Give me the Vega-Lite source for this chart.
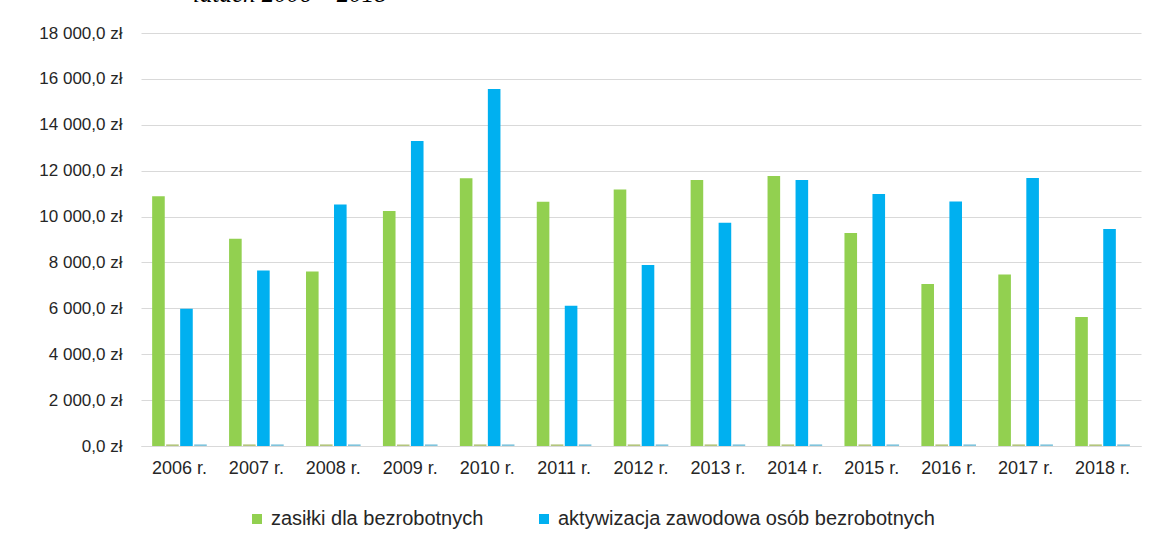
{
  "$schema": "https://vega.github.io/schema/vega-lite/v6.json",
  "width": 1000,
  "height": 413,
  "autosize": "none",
  "padding": {"left": 141, "top": 33, "right": 14, "bottom": 99},
  "background": "white",
  "config": {"view": {"stroke": null}, "font": "Liberation Sans"},
  "title": {
    "text": "latach 2006 – 2018",
    "anchor": "start",
    "frame": "group",
    "dx": 52,
    "dy": 9,
    "offset": 6,
    "baseline": "alphabetic",
    "font": "Liberation Serif",
    "fontStyle": "italic",
    "fontWeight": "normal",
    "fontSize": 25,
    "color": "#000000"
  },
  "data": {
    "values": [
      {"rok": "2006 r.", "seria": "zasiłki dla bezrobotnych", "kwota": 10890},
      {"rok": "2006 r.", "seria": "seria 2", "kwota": 70},
      {"rok": "2006 r.", "seria": "aktywizacja zawodowa osób bezrobotnych", "kwota": 5980},
      {"rok": "2006 r.", "seria": "seria 4", "kwota": 70},
      {"rok": "2007 r.", "seria": "zasiłki dla bezrobotnych", "kwota": 9030},
      {"rok": "2007 r.", "seria": "seria 2", "kwota": 70},
      {"rok": "2007 r.", "seria": "aktywizacja zawodowa osób bezrobotnych", "kwota": 7650},
      {"rok": "2007 r.", "seria": "seria 4", "kwota": 70},
      {"rok": "2008 r.", "seria": "zasiłki dla bezrobotnych", "kwota": 7600},
      {"rok": "2008 r.", "seria": "seria 2", "kwota": 70},
      {"rok": "2008 r.", "seria": "aktywizacja zawodowa osób bezrobotnych", "kwota": 10530},
      {"rok": "2008 r.", "seria": "seria 4", "kwota": 70},
      {"rok": "2009 r.", "seria": "zasiłki dla bezrobotnych", "kwota": 10240},
      {"rok": "2009 r.", "seria": "seria 2", "kwota": 70},
      {"rok": "2009 r.", "seria": "aktywizacja zawodowa osób bezrobotnych", "kwota": 13290},
      {"rok": "2009 r.", "seria": "seria 4", "kwota": 70},
      {"rok": "2010 r.", "seria": "zasiłki dla bezrobotnych", "kwota": 11670},
      {"rok": "2010 r.", "seria": "seria 2", "kwota": 70},
      {"rok": "2010 r.", "seria": "aktywizacja zawodowa osób bezrobotnych", "kwota": 15560},
      {"rok": "2010 r.", "seria": "seria 4", "kwota": 70},
      {"rok": "2011 r.", "seria": "zasiłki dla bezrobotnych", "kwota": 10645},
      {"rok": "2011 r.", "seria": "seria 2", "kwota": 70},
      {"rok": "2011 r.", "seria": "aktywizacja zawodowa osób bezrobotnych", "kwota": 6110},
      {"rok": "2011 r.", "seria": "seria 4", "kwota": 70},
      {"rok": "2012 r.", "seria": "zasiłki dla bezrobotnych", "kwota": 11180},
      {"rok": "2012 r.", "seria": "seria 2", "kwota": 70},
      {"rok": "2012 r.", "seria": "aktywizacja zawodowa osób bezrobotnych", "kwota": 7890},
      {"rok": "2012 r.", "seria": "seria 4", "kwota": 70},
      {"rok": "2013 r.", "seria": "zasiłki dla bezrobotnych", "kwota": 11590},
      {"rok": "2013 r.", "seria": "seria 2", "kwota": 70},
      {"rok": "2013 r.", "seria": "aktywizacja zawodowa osób bezrobotnych", "kwota": 9730},
      {"rok": "2013 r.", "seria": "seria 4", "kwota": 70},
      {"rok": "2014 r.", "seria": "zasiłki dla bezrobotnych", "kwota": 11770},
      {"rok": "2014 r.", "seria": "seria 2", "kwota": 70},
      {"rok": "2014 r.", "seria": "aktywizacja zawodowa osób bezrobotnych", "kwota": 11590},
      {"rok": "2014 r.", "seria": "seria 4", "kwota": 70},
      {"rok": "2015 r.", "seria": "zasiłki dla bezrobotnych", "kwota": 9280},
      {"rok": "2015 r.", "seria": "seria 2", "kwota": 70},
      {"rok": "2015 r.", "seria": "aktywizacja zawodowa osób bezrobotnych", "kwota": 10980},
      {"rok": "2015 r.", "seria": "seria 4", "kwota": 70},
      {"rok": "2016 r.", "seria": "zasiłki dla bezrobotnych", "kwota": 7060},
      {"rok": "2016 r.", "seria": "seria 2", "kwota": 70},
      {"rok": "2016 r.", "seria": "aktywizacja zawodowa osób bezrobotnych", "kwota": 10660},
      {"rok": "2016 r.", "seria": "seria 4", "kwota": 70},
      {"rok": "2017 r.", "seria": "zasiłki dla bezrobotnych", "kwota": 7480},
      {"rok": "2017 r.", "seria": "seria 2", "kwota": 70},
      {"rok": "2017 r.", "seria": "aktywizacja zawodowa osób bezrobotnych", "kwota": 11680},
      {"rok": "2017 r.", "seria": "seria 4", "kwota": 70},
      {"rok": "2018 r.", "seria": "zasiłki dla bezrobotnych", "kwota": 5620},
      {"rok": "2018 r.", "seria": "seria 2", "kwota": 70},
      {"rok": "2018 r.", "seria": "aktywizacja zawodowa osób bezrobotnych", "kwota": 9455},
      {"rok": "2018 r.", "seria": "seria 4", "kwota": 70}
    ]
  },
  "mark": {"type": "bar"},
  "encoding": {
    "x": {
      "field": "rok",
      "type": "nominal",
      "sort": null,
      "scale": {"paddingInner": 0.29, "paddingOuter": 0.145},
      "axis": {
        "title": null,
        "labelAngle": 0,
        "ticks": false,
        "domainColor": "#d9d9d9",
        "domainWidth": 1,
        "labelFont": "Liberation Sans",
        "labelFontSize": 18,
        "labelColor": "#262626",
        "labelPadding": 13
      }
    },
    "xOffset": {
      "field": "seria",
      "type": "nominal",
      "sort": ["zasiłki dla bezrobotnych", "seria 2", "aktywizacja zawodowa osób bezrobotnych", "seria 4"],
      "scale": {"paddingInner": 0.1}
    },
    "y": {
      "field": "kwota",
      "type": "quantitative",
      "scale": {"domain": [0, 18000], "nice": false},
      "axis": {
        "title": null,
        "values": [0, 2000, 4000, 6000, 8000, 10000, 12000, 14000, 16000, 18000],
        "labelExpr": "replace(replace(format(datum.value, ',.1f'), ',', '\u00a0'), '.', ',') + '\u00a0zł'",
        "grid": true,
        "gridColor": "#d9d9d9",
        "gridWidth": 1,
        "domain": false,
        "ticks": false,
        "labelPadding": 19,
        "labelFont": "Liberation Sans",
        "labelFontSize": 17,
        "labelColor": "#262626"
      }
    },
    "color": {
      "field": "seria",
      "type": "nominal",
      "scale": {
        "domain": ["zasiłki dla bezrobotnych", "seria 2", "aktywizacja zawodowa osób bezrobotnych", "seria 4"],
        "range": ["#92D050", "#B3C67D", "#00B0F0", "#7FC4DC"]
      },
      "legend": {
        "values": ["zasiłki dla bezrobotnych", "aktywizacja zawodowa osób bezrobotnych"],
        "title": null,
        "orient": "none",
        "legendX": 106,
        "legendY": 476,
        "direction": "horizontal",
        "symbolType": "square",
        "symbolSize": 100,
        "symbolStrokeWidth": 0,
        "labelFont": "Liberation Sans",
        "labelFontSize": 20,
        "labelColor": "#262626",
        "labelOffset": 4,
        "labelLimit": 500,
        "columnPadding": 50
      }
    }
  }
}
